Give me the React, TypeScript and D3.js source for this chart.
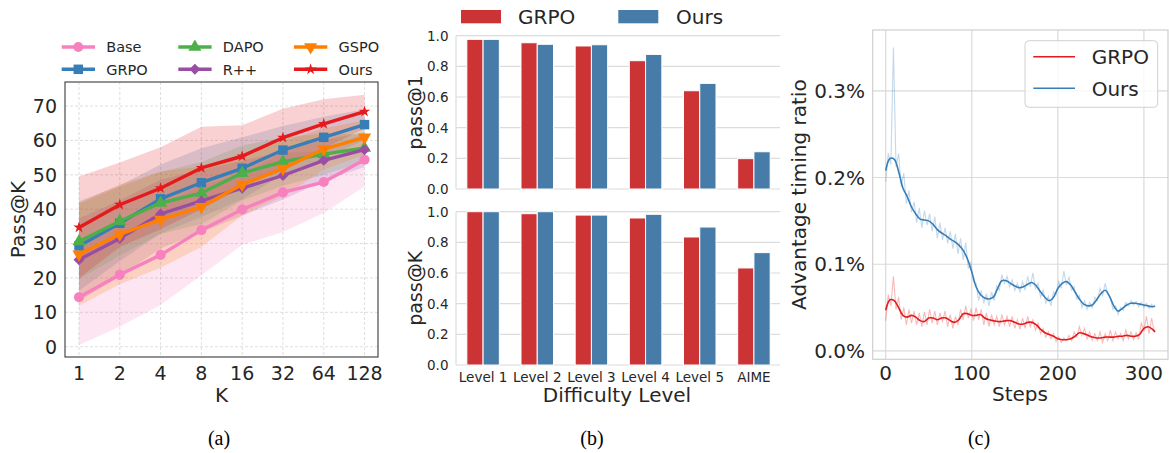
import React from 'react';
import * as d3 from 'd3';

const SANS = "'DejaVu Sans', sans-serif";
const SERIF = "'Liberation Serif', 'Times New Roman', serif";

// ---- (a) Pass@K over K ----
const kLabels = ['1', '2', '4', '8', '16', '32', '64', '128'];
const baseMean = [14.4, 20.9, 26.7, 33.9, 39.9, 44.9, 47.9, 54.4];
const baseStd = [13.9, 15.1, 14.6, 13.1, 10.3, 11.5, 9.0, 7.8];
const grpoMean = [29.3, 35.9, 43.0, 47.7, 51.9, 57.2, 60.9, 64.6];
const grpoStd = [13, 11, 10, 10, 9, 7, 6, 4.5];
const dapoMean = [30.6, 36.5, 41.8, 44.7, 50.5, 53.8, 56.0, 57.8];
const dapoStd = [11, 10, 9, 9, 8, 7, 6, 4];
const rppMean = [25.3, 31.5, 38.6, 42.4, 46.1, 49.8, 54.2, 57.3];
const rppStd = [12, 11, 10, 9, 8, 7, 6, 5];
const gspoMean = [26.9, 32.7, 37.0, 40.7, 47.2, 51.8, 57.5, 60.9];
const gspoStd = [15, 14.5, 14, 11.7, 9, 8, 6, 5];
const oursMean = [34.7, 41.3, 46.1, 52.0, 55.4, 60.8, 64.8, 68.4];
const oursStd = [14.8, 12.3, 11.9, 12.0, 9.0, 8.4, 7.2, 4.9];
const passTicks = [0, 10, 20, 30, 40, 50, 60, 70];

// ---- (b) pass@1 / pass@K per difficulty ----
const levels = ['Level 1', 'Level 2', 'Level 3', 'Level 4', 'Level 5', 'AIME'];
const pass1Grpo = [0.976, 0.954, 0.933, 0.837, 0.641, 0.198];
const pass1Ours = [0.976, 0.944, 0.941, 0.878, 0.689, 0.243];
const passKGrpo = [1.0, 0.987, 0.978, 0.959, 0.835, 0.633];
const passKOurs = [1.0, 1.0, 0.978, 0.983, 0.9, 0.733];
const barTicks = [0, 0.2, 0.4, 0.6, 0.8, 1.0];

// ---- (c) advantage timing ratio (%) over steps ----
const smoothSteps = [...d3.range(0, 315, 5), 313];
const grpoSmooth = [
  0.047, 0.059, 0.058, 0.05, 0.041, 0.039, 0.041, 0.039, 0.035, 0.034,
  0.038, 0.038, 0.036, 0.038, 0.038, 0.035, 0.033, 0.036, 0.043, 0.043,
  0.041, 0.041, 0.042, 0.038, 0.036, 0.035, 0.034, 0.034, 0.035, 0.035,
  0.033, 0.031, 0.031, 0.033, 0.033, 0.03, 0.025, 0.021, 0.019, 0.017,
  0.014, 0.013, 0.013, 0.014, 0.017, 0.021, 0.02, 0.018, 0.016, 0.015,
  0.015, 0.016, 0.016, 0.016, 0.017, 0.017, 0.018, 0.017, 0.017, 0.019,
  0.026, 0.028, 0.025, 0.022,
];
const oursSmooth = [
  0.208, 0.222, 0.221, 0.207, 0.188, 0.178, 0.166, 0.158, 0.152, 0.151,
  0.15, 0.146, 0.14, 0.136, 0.133, 0.129, 0.126, 0.122, 0.116, 0.106,
  0.091, 0.074, 0.065, 0.061, 0.06, 0.062, 0.072, 0.081, 0.081, 0.078,
  0.075, 0.073, 0.074, 0.077, 0.079, 0.075, 0.068, 0.062, 0.058, 0.062,
  0.072, 0.078, 0.08, 0.076, 0.068, 0.06, 0.054, 0.052, 0.053, 0.059,
  0.066, 0.07, 0.063, 0.052, 0.046, 0.049, 0.053, 0.055, 0.055, 0.054,
  0.053, 0.052, 0.051, 0.052,
];
const rawSteps = d3.range(0, 313, 3);
const grpoRaw = [
  0.035, 0.065, 0.052, 0.086, 0.048, 0.062, 0.036, 0.05, 0.03, 0.048,
  0.032, 0.046, 0.03, 0.044, 0.028, 0.045, 0.03, 0.048, 0.032, 0.046,
  0.03, 0.044, 0.034, 0.046, 0.028, 0.042, 0.026, 0.04, 0.03, 0.048,
  0.036, 0.052, 0.038, 0.048, 0.035, 0.05, 0.036, 0.048, 0.03, 0.044,
  0.028, 0.042, 0.03, 0.04, 0.028, 0.042, 0.03, 0.04, 0.028, 0.04,
  0.026, 0.036, 0.025, 0.038, 0.026, 0.04, 0.028, 0.036, 0.024, 0.032,
  0.02, 0.026, 0.016, 0.022, 0.014, 0.02, 0.011, 0.016, 0.01, 0.015,
  0.012, 0.018, 0.012, 0.022, 0.016, 0.028, 0.018, 0.026, 0.014, 0.022,
  0.012, 0.02, 0.012, 0.022, 0.01, 0.02, 0.012, 0.024, 0.012, 0.022,
  0.014, 0.02, 0.012, 0.024, 0.014, 0.022, 0.013, 0.021, 0.014, 0.032,
  0.024, 0.04, 0.02, 0.038, 0.022,
];
const oursRaw = [
  0.195, 0.228, 0.215, 0.35, 0.212, 0.228, 0.19, 0.205, 0.17, 0.185,
  0.16, 0.172, 0.148, 0.165, 0.142, 0.162, 0.145, 0.158, 0.138, 0.155,
  0.13, 0.148, 0.128, 0.142, 0.124, 0.138, 0.118, 0.135, 0.112, 0.13,
  0.105, 0.125, 0.095, 0.102, 0.08, 0.078, 0.058, 0.07, 0.055, 0.066,
  0.052, 0.068, 0.058, 0.075, 0.07, 0.088, 0.078, 0.086, 0.074, 0.082,
  0.07, 0.078, 0.068, 0.08, 0.07, 0.086, 0.074, 0.09, 0.072, 0.078,
  0.062, 0.07, 0.055, 0.063, 0.052, 0.068, 0.065, 0.08, 0.072, 0.092,
  0.076, 0.085, 0.07, 0.074, 0.06, 0.064, 0.05, 0.058, 0.048, 0.056,
  0.05, 0.062, 0.058, 0.072, 0.064, 0.078, 0.066, 0.062, 0.048, 0.052,
  0.042, 0.05, 0.047, 0.056, 0.052, 0.058, 0.053, 0.057, 0.051, 0.056,
  0.05, 0.055, 0.049, 0.054, 0.05,
];
const stepTicks = [0, 100, 200, 300];
const ratioTicks = [0, 0.1, 0.2, 0.3];

const SET1 = {
  red: '#e41a1c', blue: '#377eb8', green: '#4daf4a',
  purple: '#984ea3', orange: '#ff7f00', pink: '#f781bf',
};
const BAR_RED = '#cb3335';
const BAR_BLUE = '#477ca8';

const marker = (kind: string) => {
  if (kind === 'circle') return { d: d3.symbol().type(d3.symbolCircle).size(80)(), rot: 0 };
  if (kind === 'square') return { d: d3.symbol().type(d3.symbolSquare).size(90)(), rot: 0 };
  if (kind === 'tri') return { d: d3.symbol().type(d3.symbolTriangle).size(75)(), rot: 0 };
  if (kind === 'tridown') return { d: d3.symbol().type(d3.symbolTriangle).size(75)(), rot: 180 };
  if (kind === 'diamond') return { d: d3.symbol().type(d3.symbolSquare).size(60)(), rot: 45 };
  return { d: d3.symbol().type(d3.symbolStar).size(40)(), rot: 0 };
};

const seriesA = [
  { name: 'Base', mean: baseMean, std: baseStd, color: SET1.pink, mk: 'circle' },
  { name: 'GRPO', mean: grpoMean, std: grpoStd, color: SET1.blue, mk: 'square' },
  { name: 'DAPO', mean: dapoMean, std: dapoStd, color: SET1.green, mk: 'tri' },
  { name: 'R++', mean: rppMean, std: rppStd, color: SET1.purple, mk: 'diamond' },
  { name: 'GSPO', mean: gspoMean, std: gspoStd, color: SET1.orange, mk: 'tridown' },
  { name: 'Ours', mean: oursMean, std: oursStd, color: SET1.red, mk: 'star' },
];

const PanelA = () => {
  const left = 65, right = 378, top = 82, bottom = 357;
  const x = d3.scaleLinear().domain([-0.343, 7.33]).range([left, right]);
  const y = d3.scaleLinear().domain([-3, 77]).range([bottom, top]);
  const idx = d3.range(kLabels.length);
  const line = d3.line<number>().x((_, i) => x(i)).y((m) => y(m));
  return (
    <g>
      <rect x={left} y={top} width={right - left} height={bottom - top} fill="white" />
      {idx.map((i) => (
        <line key={'gx' + i} x1={x(i)} x2={x(i)} y1={top} y2={bottom}
          stroke="#d6d6d6" strokeWidth={0.8} strokeDasharray="3,2" />
      ))}
      {passTicks.map((t) => (
        <line key={'gy' + t} x1={left} x2={right} y1={y(t)} y2={y(t)}
          stroke="#d6d6d6" strokeWidth={0.8} strokeDasharray="3,2" />
      ))}
      {seriesA.map((s) => {
        const area = d3.area<number>()
          .x((_, i) => x(i))
          .y0((m, i) => y(m - s.std[i]))
          .y1((m, i) => y(m + s.std[i]));
        return <path key={'band' + s.name} d={area(s.mean) || ''} fill={s.color} fillOpacity={0.2} />;
      })}
      {seriesA.map((s) => {
        const mk = marker(s.mk);
        return (
          <g key={s.name}>
            <path d={line(s.mean) || ''} fill="none" stroke={s.color} strokeWidth={3.4} strokeLinejoin="round" />
            {s.mean.map((m, i) => (
              <path key={i} d={mk.d || ''} fill={s.color}
                transform={`translate(${x(i)},${y(m)}) rotate(${mk.rot})`} />
            ))}
          </g>
        );
      })}
      <rect x={left} y={top} width={right - left} height={bottom - top} fill="none" stroke="#3a3a3a" strokeWidth={1.1} />
      {passTicks.map((t) => (
        <text key={'ty' + t} x={57} y={y(t)} dy="0.36em" textAnchor="end"
          fontSize={19} fontFamily={SANS} fill="#262626">{t}</text>
      ))}
      {kLabels.map((k, i) => (
        <text key={'tx' + k} x={x(i)} y={380} textAnchor="middle"
          fontSize={19} fontFamily={SANS} fill="#262626">{k}</text>
      ))}
      <text x={(left + right) / 2} y={402} textAnchor="middle" fontSize={20} fontFamily={SANS} fill="#262626">K</text>
      <text transform={`translate(25,${(top + bottom) / 2}) rotate(-90)`} textAnchor="middle"
        fontSize={20} fontFamily={SANS} fill="#262626">Pass@K</text>
      {seriesA.map((s, i) => {
        const col = Math.floor(i / 2), row = i % 2;
        const lx = [61.7, 178.3, 294][col];
        const ly = [47, 69.3][row];
        const mk = marker(s.mk);
        return (
          <g key={'lg' + s.name}>
            <line x1={lx} x2={lx + 33.3} y1={ly} y2={ly} stroke={s.color} strokeWidth={3.4} />
            <path d={mk.d || ''} fill={s.color} transform={`translate(${lx + 16.6},${ly}) rotate(${mk.rot})`} />
            <text x={lx + 44.5} y={ly + 5.3} fontSize={14.5} fontFamily={SANS} fill="#262626">{s.name}</text>
          </g>
        );
      })}
      <text x={219} y={445} textAnchor="middle" fontSize={20} fontFamily={SERIF} fill="#000">(a)</text>
    </g>
  );
};

const BarPanel = ({ top, bottom, grpo, ours, label, showX }:
  { top: number; bottom: number; grpo: number[]; ours: number[]; label: string; showX: boolean }) => {
  const left = 456, clipRight = 780;
  const x = d3.scaleLinear().domain([-0.5, 5.5]).range([left, 781]);
  const y = d3.scaleLinear().domain([0, 1]).range([bottom, top]);
  const sub = d3.scaleBand().domain(['GRPO', 'Ours']).range([-0.3, 0.3]);
  const bw = x(sub.bandwidth()) - x(0);
  return (
    <g>
      {barTicks.map((t) => (
        <line key={'g' + t} x1={left} x2={clipRight} y1={y(t)} y2={y(t)} stroke="#dcdcdc" strokeWidth={1.2} />
      ))}
      <line x1={left} x2={left} y1={top} y2={bottom} stroke="#dcdcdc" strokeWidth={1.2} />
      {levels.map((lv, i) => (
        <g key={lv}>
          <rect x={x(i + (sub('GRPO') || 0))} y={y(grpo[i])} width={bw} height={y(0) - y(grpo[i])}
            fill={BAR_RED} stroke="white" strokeWidth={1} />
          <rect x={x(i + (sub('Ours') || 0))} y={y(ours[i])} width={bw} height={y(0) - y(ours[i])}
            fill={BAR_BLUE} stroke="white" strokeWidth={1} />
        </g>
      ))}
      {barTicks.map((t) => (
        <text key={'t' + t} x={448.5} y={y(t)} dy="0.36em" textAnchor="end"
          fontSize={13.5} fontFamily={SANS} fill="#262626">{t.toFixed(1)}</text>
      ))}
      {showX && levels.map((lv, i) => (
        <text key={'x' + lv} x={x(i)} y={382} textAnchor="middle"
          fontSize={13.5} fontFamily={SANS} fill="#262626">{lv}</text>
      ))}
      <text transform={`translate(422,${(top + bottom) / 2}) rotate(-90)`} textAnchor="middle"
        fontSize={19} fontFamily={SANS} fill="#262626">{label}</text>
    </g>
  );
};

const PanelB = () => (
  <g>
    <rect x={461} y={10} width={40} height={13.3} fill={BAR_RED} />
    <text x={518} y={24} fontSize={20} fontFamily={SANS} fill="#262626">GRPO</text>
    <rect x={618.3} y={10} width={40} height={13.3} fill={BAR_BLUE} />
    <text x={676} y={24} fontSize={20} fontFamily={SANS} fill="#262626">Ours</text>
    <BarPanel top={35.7} bottom={189} grpo={pass1Grpo} ours={pass1Ours} label="pass@1" showX={false} />
    <BarPanel top={211.7} bottom={365} grpo={passKGrpo} ours={passKOurs} label="pass@K" showX={true} />
    <text x={617} y={402} textAnchor="middle" fontSize={20} fontFamily={SANS} fill="#262626">Difficulty Level</text>
    <text x={592} y={445} textAnchor="middle" fontSize={20} fontFamily={SERIF} fill="#000">(b)</text>
  </g>
);

const PanelC = () => {
  const left = 872.7, right = 1168, top = 30, bottom = 359.3;
  const x = d3.scaleLinear().domain([-15.1, 328]).range([left, right]);
  const y = d3.scaleLinear().domain([-0.0096, 0.3701]).range([bottom, top]);
  const raw = d3.line<number>().x((_, i) => x(rawSteps[i])).y((v) => y(v));
  const smooth = d3.line<number>().x((_, i) => x(smoothSteps[i])).y((v) => y(v)).curve(d3.curveCatmullRom.alpha(0.5));
  return (
    <g>
      {stepTicks.map((t) => (
        <line key={'gx' + t} x1={x(t)} x2={x(t)} y1={top} y2={bottom} stroke="#dadada" strokeWidth={1.2} />
      ))}
      {ratioTicks.map((t) => (
        <line key={'gy' + t} x1={left} x2={right} y1={y(t)} y2={y(t)} stroke="#dadada" strokeWidth={1.2} />
      ))}
      <path d={raw(oursRaw) || ''} fill="none" stroke={SET1.blue} strokeOpacity={0.3} strokeWidth={1.1} />
      <path d={raw(grpoRaw) || ''} fill="none" stroke={SET1.red} strokeOpacity={0.3} strokeWidth={1.1} />
      <path d={smooth(oursSmooth) || ''} fill="none" stroke={SET1.blue} strokeWidth={1.6} />
      <path d={smooth(grpoSmooth) || ''} fill="none" stroke={SET1.red} strokeWidth={1.6} />
      <rect x={left} y={top} width={right - left} height={bottom - top} fill="none" stroke="#cfcfcf" strokeWidth={1.2} />
      {ratioTicks.map((t) => (
        <text key={'ty' + t} x={865} y={y(t)} dy="0.36em" textAnchor="end"
          fontSize={20} fontFamily={SANS} fill="#262626">{t.toFixed(1) + '%'}</text>
      ))}
      {stepTicks.map((t) => (
        <text key={'tx' + t} x={x(t)} y={380} textAnchor="middle"
          fontSize={20} fontFamily={SANS} fill="#262626">{t}</text>
      ))}
      <text x={1020} y={401} textAnchor="middle" fontSize={20} fontFamily={SANS} fill="#262626">Steps</text>
      <text transform={`translate(806,${(top + bottom) / 2}) rotate(-90)`} textAnchor="middle"
        fontSize={20} fontFamily={SANS} fill="#262626">Advantage timing ratio</text>
      <rect x={1025} y={40.7} width={132.7} height={66.6} rx={4} fill="white" fillOpacity={0.8} stroke="#d0d0d0" strokeWidth={1} />
      <line x1={1033.3} x2={1075} y1={56.7} y2={56.7} stroke={SET1.red} strokeWidth={1.6} />
      <text x={1091.7} y={64.3} fontSize={20} fontFamily={SANS} fill="#262626">GRPO</text>
      <line x1={1033.3} x2={1075} y1={88.3} y2={88.3} stroke={SET1.blue} strokeWidth={1.6} />
      <text x={1091.7} y={95.5} fontSize={20} fontFamily={SANS} fill="#262626">Ours</text>
      <text x={979} y={445} textAnchor="middle" fontSize={20} fontFamily={SERIF} fill="#000">(c)</text>
    </g>
  );
};

export default function App() {
  return (
    <svg width={1169} height={453} style={{ position: 'absolute', left: 0, top: 0, background: 'white' }}>
      <rect width={1169} height={453} fill="white" />
      <PanelA />
      <PanelB />
      <PanelC />
    </svg>
  );
}
